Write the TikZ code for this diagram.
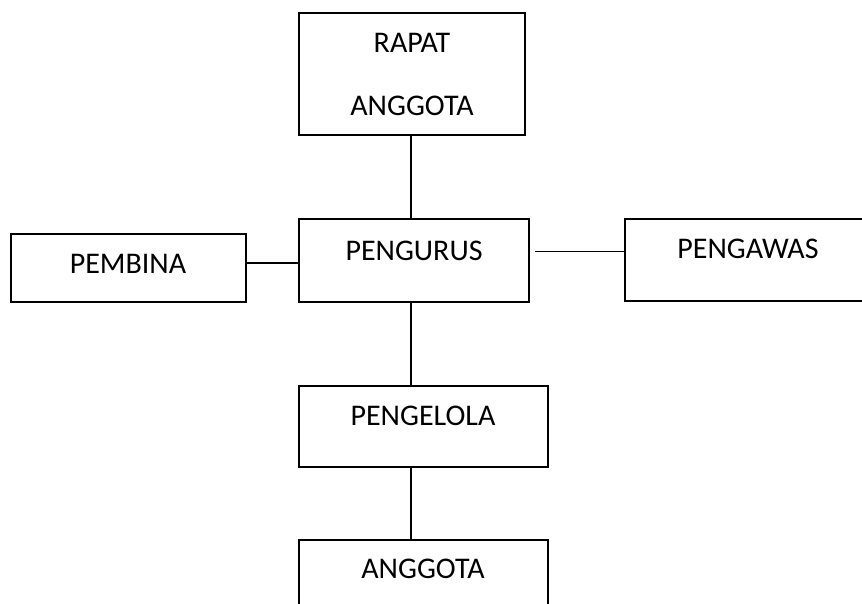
\documentclass[tikz,border=0pt]{standalone}
\usepackage{fontspec}
\setmainfont{Carlito}
\usetikzlibrary{positioning}

\tikzset{
  kotak/.style={draw,line width=1.6pt,inner sep=0pt},
  teks/.style={inner sep=0pt,font=\fontsize{30}{63}\selectfont,align=center},
  garis/.style={line width=1.4pt}
}

\begin{document}
\begin{tikzpicture}[x=1pt,y=-1pt]
\useasboundingbox (0,0) rectangle (862,604);
\clip (0,0) rectangle (862,604);
% kotak-kotak struktur
\node[kotak,minimum width=226pt,minimum height=122pt] (rapat) at (412,74) {};
\node[kotak,minimum width=230pt,minimum height=83pt] (pengurus) at (414,260.5) {};
\node[kotak,minimum width=235pt,minimum height=68pt] (pembina) at (128.5,268) {};
\node[kotak,minimum width=246pt,minimum height=82pt] (pengawas) at (748,260) {};
\node[kotak,minimum width=249pt,minimum height=81pt] (pengelola) at (423.5,426.5) {};
\node[kotak,minimum width=249pt,minimum height=80pt] (anggota) at (423.5,580) {};

% tulisan
\node[teks] (t-rapat) at (412,74.5) {RAPAT\\ANGGOTA};
\node[teks] (t-pengurus) at (414,251) {PENGURUS};
\node[teks] (t-pembina) at (128,264) {PEMBINA};
\node[teks] (t-pengawas) at (748,249) {PENGAWAS};
\node[teks] (t-pengelola) at (423,416) {PENGELOLA};
\node[teks] (t-anggota) at (423,569) {ANGGOTA};

% garis penghubung
\draw[garis] ([xshift=-1pt]rapat.south) -- ([xshift=-1pt]rapat.south |- pengurus.north);
\draw[garis] ([xshift=-1pt]rapat.south |- pengurus.south) -- ([xshift=-1pt]rapat.south |- pengelola.north);
\draw[garis] ([xshift=-1pt]rapat.south |- pengelola.south) -- ([xshift=-1pt]rapat.south |- anggota.north);
\draw[garis] ([yshift=5pt]pembina.east) -- ([yshift=5pt]pembina.east -| pengurus.west);
\draw[garis] ([xshift=5pt,yshift=9pt]pengurus.east) -- ([yshift=9pt]pengurus.east -| pengawas.west);
\end{tikzpicture}
\end{document}
